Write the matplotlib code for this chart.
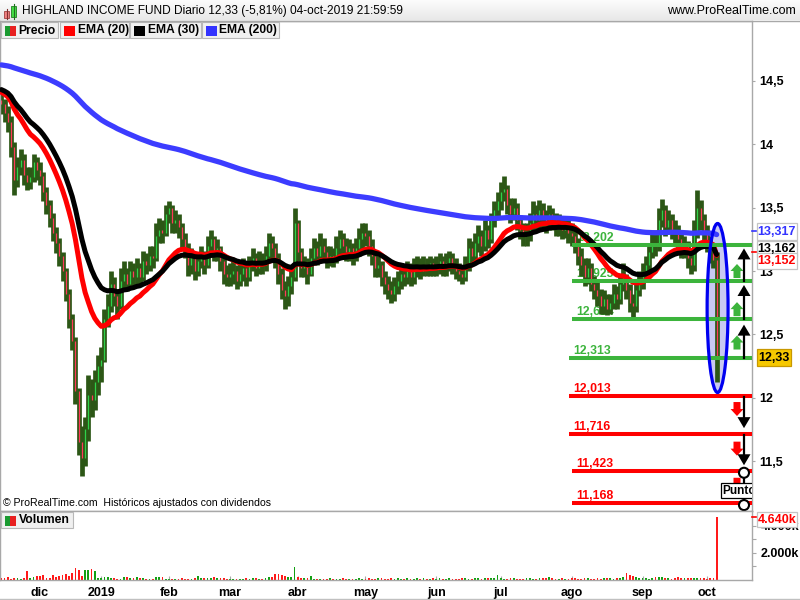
import numpy as np
import pandas as pd
import matplotlib
matplotlib.use("Agg")
import matplotlib.pyplot as plt
from matplotlib.patches import Rectangle, Ellipse, Polygon
from matplotlib.lines import Line2D

plt.rcParams['font.family'] = ['Liberation Sans', 'DejaVu Sans']

# ---------------- data ----------------
holidays = ['2018-11-22', '2018-12-05', '2018-12-25', '2019-01-01', '2019-01-21',
            '2019-02-18', '2019-04-19', '2019-05-27', '2019-07-04', '2019-09-02']
dates = pd.bdate_range('2018-11-14', '2019-10-04', freq='C', holidays=holidays)

close_nov = [14.32,14.25,14.18,13.98,13.72,13.82,13.88,13.76,13.70,13.74,13.86,13.80]
high_nov  = [14.40,14.36,14.30,14.22,14.02,13.90,13.96,13.92,13.82,13.82,13.92,13.90]
low_nov   = [14.24,14.18,14.10,13.90,13.60,13.66,13.76,13.68,13.64,13.65,13.70,13.72]

close_dec = [13.75,13.62,13.52,13.42,13.30,13.22,13.12,13.00,12.82,12.62,12.45,12.05,11.65,11.52,11.75,12.02,11.98,12.12,12.25]
high_dec  = [13.86,13.78,13.66,13.56,13.46,13.35,13.26,13.15,13.02,12.86,12.66,12.48,12.08,11.78,11.85,12.18,12.15,12.22,12.34]
low_dec   = [13.68,13.55,13.45,13.35,13.24,13.14,13.04,12.92,12.76,12.55,12.38,11.95,11.55,11.38,11.46,11.66,11.85,11.90,12.02]

close_jan = [12.30,12.62,12.72,12.90,12.80,12.72,12.92,12.98,12.90,13.00,12.95,13.02,12.95,13.08,13.05,13.12,13.10,13.28,13.32,13.30,13.45]
high_jan  = [12.40,12.70,12.82,13.00,12.95,12.86,13.02,13.08,13.02,13.08,13.06,13.10,13.06,13.16,13.14,13.20,13.20,13.38,13.42,13.40,13.52]
low_jan   = [12.12,12.28,12.56,12.68,12.72,12.62,12.70,12.86,12.84,12.86,12.88,12.90,12.88,12.92,12.98,13.00,13.02,13.08,13.22,13.22,13.28]

close_feb = [13.50,13.38,13.40,13.35,13.25,13.18,13.05,13.10,13.00,13.08,13.12,13.05,13.20,13.25,13.15,13.18,13.08,12.98,12.95]
high_feb  = [13.55,13.52,13.48,13.45,13.38,13.30,13.22,13.18,13.14,13.15,13.20,13.16,13.28,13.32,13.28,13.25,13.20,13.12,13.05]
low_feb   = [13.38,13.30,13.30,13.26,13.18,13.10,12.96,12.98,12.93,12.96,13.02,12.98,13.02,13.14,13.08,13.08,13.00,12.90,12.88]

close_mar = [12.98,13.00,12.92,12.98,13.02,12.95,13.05,13.10,13.02,13.08,13.05,13.12,13.22,13.18,13.10,12.98,12.85,12.80,12.88,12.95,13.38]
high_mar  = [13.06,13.08,13.05,13.06,13.10,13.06,13.12,13.18,13.14,13.16,13.14,13.20,13.30,13.28,13.22,13.14,13.02,12.92,12.96,13.04,13.50]
low_mar   = [12.88,12.90,12.86,12.88,12.92,12.88,12.92,13.00,12.96,12.98,12.98,13.00,13.08,13.10,13.02,12.90,12.78,12.70,12.72,12.82,12.92]

close_apr = [13.15,13.02,13.05,12.98,13.10,13.18,13.12,13.20,13.15,13.08,13.12,13.10,13.18,13.25,13.20,13.15,13.18,13.12,13.18,13.25,13.30]
high_apr  = [13.40,13.18,13.12,13.10,13.18,13.26,13.24,13.30,13.26,13.20,13.20,13.18,13.28,13.32,13.30,13.26,13.25,13.22,13.26,13.34,13.38]
low_apr   = [13.08,12.95,12.95,12.90,12.96,13.05,13.05,13.08,13.08,13.02,13.04,13.03,13.06,13.12,13.12,13.08,13.08,13.05,13.08,13.12,13.18]

close_may = [13.28,13.20,13.12,13.02,13.05,12.95,12.90,12.85,12.82,12.88,12.92,12.98,12.95,13.00,12.95,13.02,13.05,13.00,13.05,13.02,13.06,13.02]
high_may  = [13.38,13.32,13.25,13.16,13.12,13.08,13.00,12.96,12.92,12.95,13.00,13.06,13.04,13.08,13.06,13.10,13.12,13.10,13.12,13.10,13.12,13.10]
low_may   = [13.20,13.12,13.05,12.95,12.95,12.88,12.82,12.78,12.75,12.76,12.82,12.86,12.88,12.90,12.88,12.90,12.95,12.94,12.96,12.96,12.96,12.96]

close_jun = [13.05,13.08,13.02,13.06,13.10,13.05,13.00,12.98,12.95,13.05,13.18,13.12,13.22,13.28,13.20,13.32,13.25,13.40,13.48,13.55]
high_jun  = [13.12,13.14,13.12,13.14,13.16,13.14,13.10,13.06,13.04,13.12,13.26,13.24,13.30,13.36,13.32,13.40,13.36,13.46,13.55,13.62]
low_jun   = [12.96,12.98,12.96,12.96,13.00,12.98,12.94,12.92,12.90,12.92,13.00,13.05,13.08,13.15,13.12,13.16,13.18,13.22,13.35,13.42]

close_jul = [13.62,13.65,13.52,13.45,13.50,13.40,13.32,13.28,13.30,13.38,13.45,13.40,13.48,13.42,13.38,13.45,13.40,13.35,13.38,13.32,13.35,13.30]
high_jul  = [13.70,13.75,13.68,13.58,13.58,13.54,13.44,13.38,13.38,13.46,13.55,13.52,13.56,13.54,13.48,13.52,13.50,13.46,13.45,13.42,13.42,13.40]
low_jul   = [13.48,13.55,13.45,13.38,13.40,13.32,13.25,13.20,13.20,13.24,13.32,13.32,13.34,13.35,13.30,13.32,13.32,13.28,13.28,13.25,13.26,13.22]

close_aug = [13.28,13.22,13.12,13.05,12.95,13.02,12.90,12.85,12.80,12.72,12.78,12.70,12.75,12.82,12.78,12.90,12.95,12.85,12.75,12.72,12.85,12.92]
high_aug  = [13.38,13.34,13.26,13.18,13.10,13.10,13.06,12.96,12.92,12.86,12.85,12.82,12.82,12.90,12.88,12.98,13.06,12.98,12.90,12.82,12.92,13.00]
low_aug   = [13.20,13.14,13.05,12.96,12.88,12.90,12.84,12.78,12.72,12.66,12.66,12.65,12.66,12.70,12.70,12.74,12.84,12.78,12.68,12.64,12.68,12.80]

close_sep = [12.98,13.05,13.15,13.22,13.20,13.40,13.48,13.35,13.40,13.32,13.30,13.25,13.18,13.20,13.10,13.05,13.30,13.50,13.40,13.30]
high_sep  = [13.06,13.12,13.22,13.30,13.32,13.50,13.57,13.52,13.48,13.45,13.40,13.36,13.30,13.28,13.24,13.16,13.40,13.64,13.56,13.45]
low_sep   = [12.86,12.92,13.00,13.10,13.12,13.16,13.35,13.28,13.30,13.25,13.22,13.18,13.10,13.10,13.02,12.98,13.00,13.26,13.32,13.22]

close_oct = [13.22,13.15,13.09,12.33]
high_oct  = [13.36,13.28,13.22,13.15]
low_oct   = [13.15,13.06,13.02,12.12]

vol_nov = [118,140,190,95,165,118,110,120,660,118,190,283]
vol_dec = [283,354,118,140,354,190,283,354,472,283,520,900,755,283,755,755,800,660,118]
vol_jan = [165,210,210,140,140,80,70,210,190,140,140,210,140,140,95,95,80,210,210,210,95]
vol_feb = [90,80,100,85,120,95,110,90,140,283,120,140,165,165,190,140,120,165,110]
vol_mar = [95,80,90,110,95,120,110,140,120,95,110,140,190,210,425,425,380,283,235,235,944]
vol_apr = [235,165,140,120,283,95,80,90,110,95,120,80,95,110,140,95,80,110,95,120,95]
vol_may = [110,140,95,80,120,140,95,110,120,95,140,110,95,120,80,110,140,95,120,110,95,120]
vol_jun = [95,140,110,95,120,80,95,110,140,120,95,110,165,140,95,120,165,140,120,354]
vol_jul = [140,110,95,140,120,95,110,95,120,140,110,95,120,140,165,236,140,110,95,120,110,95]
vol_aug = [120,140,110,95,120,140,110,95,120,110,140,165,120,110,140,165,190,520,354,283,190,140]
vol_sep = [120,140,110,165,190,190,190,140,120,110,140,190,120,140,165,120,140,165,120,140]
vol_oct = [110,120,140,4640]

first_open = 14.35
ema_seed = {20: 14.42, 30: 14.44, 200: 14.63}

levels_up = [13.202, 12.925, 12.624, 12.313]
levels_dn = [12.013, 11.716, 11.423, 11.168]
level_text_up = ['13,202', '12,925', '12,624', '12,313']
level_text_dn = ['12,013', '11,716', '11,423', '11,168']

last_ema200, last_ema30, last_ema20, last_close = 13.317, 13.162, 13.152, 12.33
last_volume_text = '4.640k'

month_labels = ['dic', '2019', 'feb', 'mar', 'abr', 'may', 'jun', 'jul', 'ago', 'sep', 'oct']

closes = np.array(close_nov + close_dec + close_jan + close_feb + close_mar + close_apr +
                  close_may + close_jun + close_jul + close_aug + close_sep + close_oct)
highs = np.array(high_nov + high_dec + high_jan + high_feb + high_mar + high_apr +
                 high_may + high_jun + high_jul + high_aug + high_sep + high_oct)
lows = np.array(low_nov + low_dec + low_jan + low_feb + low_mar + low_apr +
                low_may + low_jun + low_jul + low_aug + low_sep + low_oct)
volumes = np.array(vol_nov + vol_dec + vol_jan + vol_feb + vol_mar + vol_apr +
                   vol_may + vol_jun + vol_jul + vol_aug + vol_sep + vol_oct)
n = len(closes)
dates = dates[:n]
opens = np.concatenate([[first_open], closes[:-1]])
x = np.arange(n)


def ema(vals, span, seed):
    a = 2.0 / (span + 1)
    out, e = [], seed
    for v in vals:
        e = e + a * (v - e)
        out.append(e)
    return np.array(out)


ema20 = ema(closes, 20, ema_seed[20])
ema30 = ema(closes, 30, ema_seed[30])
ema200 = ema(closes, 200, ema_seed[200])

# ---------------- layout ----------------
W, H = 800, 600
fig = plt.figure(figsize=(8, 6), dpi=100)
fig.patch.set_facecolor('white')


def F(px, py):
    return (px / W, 1 - py / H)


XL = (-0.42, 232.98)
YMIN, YMAX = 11.1054, 14.9736
GRAY = '#a8a8a8'
DKG = '#2c5716'
LGREEN = '#3cb43c'

ax = fig.add_axes([0, 1 - 511 / H, 752 / W, 490 / H])
axv = fig.add_axes([0, 1 - 580 / H, 752 / W, 69 / H])
for a in (ax, axv):
    a.set_xlim(*XL)
    for s in a.spines.values():
        s.set_color(GRAY)
        s.set_linewidth(1)
ax.set_ylim(YMIN, YMAX)


def py_of(p):
    return 21 + (YMAX - p) / (YMAX - YMIN) * 490


# candles
ax.vlines(x, lows, highs, color=DKG, lw=3.4, zorder=2)
up = closes >= opens
ax.vlines(x[up], opens[up], closes[up], color='#2fd24a', lw=0.9, zorder=2.2)
ax.vlines(x[~up], opens[~up], closes[~up], color='#ff3a5a', lw=0.9, zorder=2.2)

# EMAs
ax.plot(x, ema200, color='#3c3cff', lw=3.8, zorder=3, solid_capstyle='round')
ax.plot(x, ema20, color='#ff0000', lw=3.6, zorder=3.1, solid_capstyle='round')
ax.plot(x, ema30, color='#000000', lw=3.6, zorder=3.2, solid_capstyle='round')

# ellipse face (below candles)
ell_c, ell_w, ell_h = (222.3, 12.708), 6.5, 1.334
ax.add_patch(Ellipse(ell_c, ell_w, ell_h, facecolor='#c9c9f2', edgecolor='none', zorder=1.5))

# levels
lvl_start_up = [177.1, 177.1, 177.1, 176.2]
lvl_start_dn = [176.2, 176.2, 177.1, 177.1]
for vals, txts, starts, col in ((levels_up, level_text_up, lvl_start_up, LGREEN),
                                (levels_dn, level_text_dn, lvl_start_dn, '#ff0000')):
    for v, t, s in zip(vals, txts, starts):
        ax.hlines(v, s, XL[1], color=col, lw=2.9, zorder=4)
        ax.annotate(t, (s, v), xytext=(4, 4), textcoords='offset pixels',
                    color=col, fontsize=8.8, fontweight='bold', va='baseline', ha='left', zorder=1.8)

# ellipse edge on top
ax.add_patch(Ellipse(ell_c, ell_w, ell_h, facecolor='none', edgecolor='#0000f0', lw=2.3, zorder=5))


def add_poly(pts, color, z=6):
    ax.add_patch(Polygon([F(px, py) for px, py in pts], closed=True, transform=fig.transFigure,
                         facecolor=color, edgecolor='none', zorder=z))


def add_line(pts, color, lw, z=6):
    ax.add_line(Line2D([F(px, py)[0] for px, py in pts], [F(px, py)[1] for px, py in pts],
                       transform=fig.transFigure, color=color, lw=lw, zorder=z))


# green up block arrows
cx = 737
for lo, off in zip(levels_up[1:], [0, 0, 6]):
    yb = py_of(lo) - 2.5 - off
    yt = yb - 14
    add_poly([(cx - 3.5, yb), (cx - 3.5, yt + 7), (cx - 6.5, yt + 7), (cx, yt),
              (cx + 6.5, yt + 7), (cx + 3.5, yt + 7), (cx + 3.5, yb)], LGREEN)
# red down block arrows
for hi, off in zip(levels_dn[:3], [4, 6, 5]):
    yt = py_of(hi) + 2 + off
    yb = yt + 14
    add_poly([(cx - 3.5, yt), (cx + 3.5, yt), (cx + 3.5, yb - 7), (cx + 6.5, yb - 7),
              (cx, yb), (cx - 6.5, yb - 7), (cx - 3.5, yb - 7)], '#ff0000')

# black arrows
bx = 744
for lo, hi, gap in zip(levels_up[1:], levels_up[:3], [3, 4.5, 6]):
    y0, tip = py_of(lo), py_of(hi) + gap
    add_line([(bx, y0), (bx, tip + 10)], 'black', 1.6)
    add_poly([(bx - 6.5, tip + 11), (bx, tip), (bx + 6.5, tip + 11)], 'black')
for hi, lo in zip(levels_dn[:2], levels_dn[1:3]):
    y0, tip = py_of(hi) + 1, py_of(lo) - 5.5
    add_line([(bx, y0), (bx, tip - 10)], 'black', 1.6)
    add_poly([(bx - 6.5, tip - 11), (bx, tip), (bx + 6.5, tip - 11)], 'black')

# circles + Punto
c1, c2 = py_of(levels_dn[2]) + 2, py_of(levels_dn[3]) + 2
add_line([(bx, c1), (bx, c2)], 'black', 1.6)
for cy in (c1, c2):
    ax.add_patch(Ellipse(F(bx, cy), 10 / W, 10 / H, transform=fig.transFigure,
                         facecolor='white', edgecolor='black', lw=1.5, zorder=7))
ax.add_patch(Rectangle(F(720.5, 498), 32 / W, 15 / H, transform=fig.transFigure,
                       facecolor='white', edgecolor='black', lw=0.9, zorder=8))
ax.text(*F(722.5, 491), 'Punto', transform=fig.transFigure, fontsize=8.6, fontweight='bold',
        va='center', ha='left', zorder=9, clip_on=True)

# main y axis
ax.set_xticks([])
yt_vals = [11.5, 12, 12.5, 13, 13.5, 14, 14.5]
ax.yaxis.tick_right()
ax.set_yticks(yt_vals)
ax.set_yticklabels([('%g' % v).replace('.', ',') for v in yt_vals], fontweight='bold', fontsize=9)
ax.tick_params(axis='y', length=2, color=GRAY, pad=3)

# volume
vcol = np.where(up, '#12a012', '#ff1a1a')
axv.bar(x, volumes, width=0.55, color=vcol, zorder=2)
axv.set_ylim(0, 5080)
axv.yaxis.tick_right()
axv.set_yticks([1000, 2000, 3000, 4000])
axv.set_yticklabels(['', '2.000k', '', '4.000k'], fontweight='bold', fontsize=9)
axv.tick_params(axis='y', length=3, color=GRAY, pad=3)

month_idx = []
seen = set()
for i, d in enumerate(dates):
    key = (d.year, d.month)
    if key not in seen:
        seen.add(key)
        month_idx.append(i)
month_idx = month_idx[1:]
axv.set_xticks(month_idx)
axv.set_xticklabels(month_labels[:len(month_idx)], fontweight='bold', fontsize=9)
axv.tick_params(axis='x', direction='in', length=3, color=GRAY, pad=5)

# ---------------- header & legends ----------------
hax = fig.add_axes([0, 1 - 20 / H, 1, 20 / H])
grad = np.linspace(0.985, 0.91, 20).reshape(-1, 1)
hax.imshow(np.dstack([grad, grad, grad]), aspect='auto', extent=[0, 1, 0, 1])
hax.set_axis_off()
fig.add_artist(Line2D([0, 1], [1 - 20.5 / H] * 2, transform=fig.transFigure, color=GRAY, lw=1))

# icon
fig.add_artist(Line2D([F(6.5, 9)[0]] * 2, [F(6.5, 9)[1], F(6.5, 19)[1]], transform=fig.transFigure, color='#803030', lw=0.8))
fig.add_artist(Rectangle(F(4, 17.5), 5 / W, 6 / H, transform=fig.transFigure, facecolor='#f08080', edgecolor='#a04040', lw=0.6))
fig.add_artist(Line2D([F(13.5, 4)[0]] * 2, [F(13.5, 4)[1], F(13.5, 19)[1]], transform=fig.transFigure, color='#207020', lw=0.8))
fig.add_artist(Rectangle(F(11, 16.5), 5 / W, 10 / H, transform=fig.transFigure, facecolor='#44dd44', edgecolor='#208020', lw=0.6))

fig.text(*F(22, 11), 'HIGHLAND INCOME FUND Diario 12,33 (-5,81%) 04-oct-2019 21:59:59',
         fontsize=8.6, va='center', ha='left')
fig.text(*F(796, 11), 'www.ProRealTime.com', fontsize=9, va='center', ha='right')

legend_items = [('Precio', ['#1a9a30', '#e82020'], 0, 58),
                ('EMA (20)', ['#ff0000'], 59, 128),
                ('EMA (30)', ['#000000'], 129, 200),
                ('EMA (200)', ['#3333ff'], 201, 278)]
for label, cols, x0, x1 in legend_items:
    fig.add_artist(Rectangle(F(x0 + 0.5, 38), (x1 - x0) / W, 16 / H, transform=fig.transFigure,
                             facecolor='#f0f0f0', edgecolor='#b8b8b8', lw=0.8))
    sw = 10.5 / len(cols)
    for k, c in enumerate(cols):
        fig.add_artist(Rectangle(F(x0 + 5 + k * sw, 36), sw / W, 10 / H, transform=fig.transFigure,
                                 facecolor=c, edgecolor='none'))
    fig.text(*F(x0 + 18.5, 30.5), label, fontsize=8.7, fontweight='bold', va='center', ha='left')

# volume legend
fig.add_artist(Rectangle(F(0.5, 528), 72 / W, 16 / H, transform=fig.transFigure,
                         facecolor='#f0f0f0', edgecolor='#b8b8b8', lw=0.8))
fig.add_artist(Rectangle(F(5, 525.5), 5.25 / W, 10 / H, transform=fig.transFigure, facecolor='#1a9a30', edgecolor='none'))
fig.add_artist(Rectangle(F(10.25, 525.5), 5.25 / W, 10 / H, transform=fig.transFigure, facecolor='#e82020', edgecolor='none'))
fig.text(*F(18.5, 520), 'Volumen', fontsize=8.7, fontweight='bold', va='center', ha='left')

fig.text(*F(3, 503), '\u00a9 ProRealTime.com  Hist\u00f3ricos ajustados con dividendos',
         fontsize=7.6, va='center', ha='left')

# right-side value boxes
def value_box(y0, y1, x0, x1, txt, tcol, fc='white', ec='#c4c4c4'):
    fig.add_artist(Rectangle(F(x0, y1), (x1 - x0) / W, (y1 - y0) / H, transform=fig.transFigure,
                             facecolor=fc, edgecolor=ec, lw=0.9))
    fig.text(*F((x0 + x1) / 2, (y0 + y1) / 2 + 0.5), txt, color=tcol, fontsize=9,
             fontweight='bold', va='center', ha='center')


def fmt(v, nd):
    return ('%.*f' % (nd, v)).replace('.', ',')


value_box(223, 240, 756.5, 797, fmt(last_ema200, 3), '#3333ff')
value_box(241, 257, 756.5, 797, fmt(last_ema30, 3), 'black')
value_box(253, 269, 756.5, 797, fmt(last_ema20, 3), '#ff0000')
value_box(349, 366, 756.5, 791, fmt(last_close, 2), 'black', fc='#f6c800', ec='#c89800')
value_box(512, 527, 756.5, 797, last_volume_text, '#ff0000')
for yy, c in ((py_of(last_ema200), '#3333ff'), (py_of(last_ema20), '#ff0000')):
    fig.add_artist(Line2D([F(752, yy)[0], F(756, yy)[0]], [F(752, yy)[1]] * 2,
                          transform=fig.transFigure, color=c, lw=1.2))
fig.add_artist(Line2D([F(752, 517)[0], F(756, 517)[0]], [F(752, 517)[1]] * 2,
                      transform=fig.transFigure, color='#ff0000', lw=1.2))
fig.add_artist(Line2D([0, 1], [F(0, 598.5)[1]] * 2, transform=fig.transFigure, color='#c0c0c0', lw=1))

fig.savefig('out.png', dpi=100)
